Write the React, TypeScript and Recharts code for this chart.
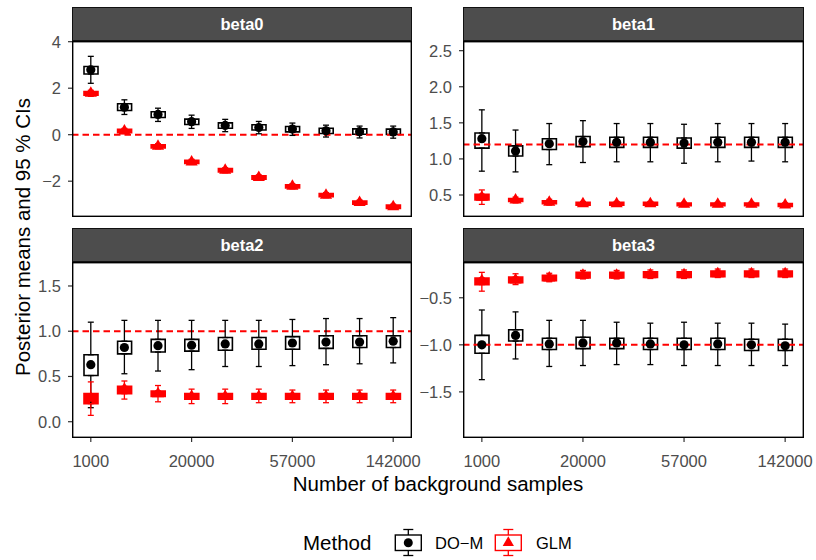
import React from 'react'
import { ComposedChart, Bar, Scatter, ErrorBar, XAxis, YAxis, ReferenceLine } from 'recharts'

// x categories (only every third one is labelled in the figure)
const sampleSizes = ['1000', '5000', '11000', '20000', '30000', '42000', '57000', '78000', '105000', '142000']
const shownTicks = ['1000', '20000', '57000', '142000']

// beta0
const b0DmMean = [2.79, 1.18, 0.87, 0.56, 0.40, 0.31, 0.24, 0.17, 0.13, 0.12]
const b0DmQ1 = [2.61, 1.04, 0.74, 0.44, 0.28, 0.20, 0.12, 0.05, 0.02, 0.01]
const b0DmQ3 = [2.93, 1.33, 0.99, 0.67, 0.51, 0.43, 0.35, 0.28, 0.25, 0.24]
const b0DmLo = [2.21, 0.87, 0.57, 0.27, 0.13, 0.04, -0.03, -0.10, -0.14, -0.15]
const b0DmHi = [3.37, 1.50, 1.14, 0.84, 0.66, 0.57, 0.50, 0.41, 0.37, 0.37]
const b0GlmMean = [1.78, 0.16, -0.50, -1.17, -1.53, -1.84, -2.22, -2.60, -2.92, -3.10]
const b0GlmQ1 = [1.70, 0.09, -0.57, -1.24, -1.60, -1.91, -2.29, -2.67, -2.99, -3.17]
const b0GlmQ3 = [1.86, 0.23, -0.43, -1.10, -1.46, -1.77, -2.15, -2.53, -2.85, -3.03]
const b0GlmLo = [1.65, 0.05, -0.61, -1.28, -1.64, -1.95, -2.33, -2.71, -3.03, -3.21]
const b0GlmHi = [1.91, 0.27, -0.39, -1.06, -1.42, -1.73, -2.11, -2.49, -2.81, -2.99]

// beta1
const b1DmMean = [1.28, 1.11, 1.21, 1.24, 1.23, 1.23, 1.22, 1.23, 1.23, 1.23]
const b1DmQ1 = [1.15, 1.04, 1.13, 1.17, 1.16, 1.16, 1.15, 1.16, 1.16, 1.16]
const b1DmQ3 = [1.36, 1.18, 1.28, 1.31, 1.30, 1.30, 1.29, 1.30, 1.30, 1.30]
const b1DmLo = [0.83, 0.82, 0.92, 0.95, 0.96, 0.96, 0.94, 0.96, 0.97, 0.96]
const b1DmHi = [1.68, 1.40, 1.49, 1.53, 1.49, 1.49, 1.48, 1.49, 1.49, 1.49]
const b1GlmMean = [0.47, 0.43, 0.40, 0.38, 0.38, 0.38, 0.37, 0.37, 0.37, 0.36]
const b1GlmQ1 = [0.43, 0.41, 0.38, 0.36, 0.36, 0.36, 0.35, 0.35, 0.35, 0.34]
const b1GlmQ3 = [0.51, 0.45, 0.42, 0.40, 0.40, 0.40, 0.39, 0.39, 0.39, 0.38]
const b1GlmLo = [0.37, 0.39, 0.36, 0.35, 0.35, 0.35, 0.34, 0.34, 0.34, 0.33]
const b1GlmHi = [0.57, 0.47, 0.44, 0.41, 0.41, 0.41, 0.40, 0.40, 0.40, 0.39]

// beta2
const b2DmMean = [0.63, 0.82, 0.84, 0.845, 0.86, 0.86, 0.87, 0.88, 0.88, 0.89]
const b2DmQ1 = [0.51, 0.75, 0.77, 0.78, 0.79, 0.80, 0.80, 0.81, 0.82, 0.82]
const b2DmQ3 = [0.74, 0.89, 0.91, 0.91, 0.93, 0.93, 0.94, 0.95, 0.95, 0.95]
const b2DmLo = [0.155, 0.53, 0.56, 0.575, 0.61, 0.61, 0.62, 0.63, 0.64, 0.65]
const b2DmHi = [1.10, 1.12, 1.12, 1.12, 1.12, 1.12, 1.13, 1.14, 1.14, 1.15]
const b2GlmMean = [0.26, 0.36, 0.31, 0.28, 0.28, 0.28, 0.28, 0.28, 0.28, 0.28]
const b2GlmQ1 = [0.20, 0.31, 0.28, 0.25, 0.25, 0.25, 0.25, 0.25, 0.25, 0.25]
const b2GlmQ3 = [0.31, 0.39, 0.34, 0.31, 0.31, 0.31, 0.31, 0.31, 0.31, 0.31]
const b2GlmLo = [0.07, 0.25, 0.22, 0.20, 0.20, 0.21, 0.21, 0.21, 0.21, 0.21]
const b2GlmHi = [0.44, 0.45, 0.40, 0.36, 0.36, 0.36, 0.35, 0.35, 0.35, 0.35]

// beta3
const b3DmMean = [-1.00, -0.90, -0.99, -0.98, -0.98, -0.99, -1.00, -0.99, -1.00, -1.01]
const b3DmQ1 = [-1.09, -0.96, -1.05, -1.04, -1.04, -1.05, -1.05, -1.05, -1.06, -1.06]
const b3DmQ3 = [-0.90, -0.84, -0.93, -0.92, -0.93, -0.93, -0.93, -0.93, -0.94, -0.94]
const b3DmLo = [-1.37, -1.15, -1.23, -1.22, -1.21, -1.21, -1.22, -1.22, -1.22, -1.22]
const b3DmHi = [-0.63, -0.65, -0.74, -0.74, -0.76, -0.77, -0.76, -0.77, -0.77, -0.78]
const b3GlmMean = [-0.32, -0.31, -0.29, -0.26, -0.26, -0.255, -0.255, -0.245, -0.245, -0.245]
const b3GlmQ1 = [-0.36, -0.34, -0.32, -0.29, -0.29, -0.285, -0.285, -0.275, -0.275, -0.275]
const b3GlmQ3 = [-0.29, -0.28, -0.26, -0.23, -0.23, -0.225, -0.225, -0.215, -0.215, -0.215]
const b3GlmLo = [-0.43, -0.36, -0.33, -0.30, -0.30, -0.295, -0.295, -0.285, -0.285, -0.285]
const b3GlmHi = [-0.23, -0.245, -0.24, -0.21, -0.21, -0.205, -0.205, -0.195, -0.195, -0.195]

const FONT = '"Liberation Sans", Arial, Helvetica, sans-serif'
const RED = '#ff0000'

type Est = { mean: number[]; q1: number[]; q3: number[]; lo: number[]; hi: number[] }

function buildRows(dm: Est, glm: Est) {
  return sampleSizes.map((n, i) => ({
    n,
    dmMean: dm.mean[i],
    dmBox: [dm.q1[i], dm.q3[i]],
    dmQ1: dm.q1[i],
    dmQ3: dm.q3[i],
    dmLow: [dm.q1[i] - dm.lo[i], 0],
    dmHigh: [0, dm.hi[i] - dm.q3[i]],
    glmMean: glm.mean[i],
    glmBox: [glm.q1[i], glm.q3[i]],
    glmQ1: glm.q1[i],
    glmQ3: glm.q3[i],
    glmLow: [glm.q1[i] - glm.lo[i], 0],
    glmHigh: [0, glm.hi[i] - glm.q3[i]],
  }))
}

const noShape = () => <g />
const dot = (p: any) => <circle cx={p.cx} cy={p.cy} r={4.6} fill="#000" />
const tri = (p: any) => {
  const r = 7
  const hw = r * 0.866
  return <polygon points={`${p.cx},${p.cy - r} ${p.cx + hw},${p.cy + r / 2} ${p.cx - hw},${p.cy + r / 2}`} fill={RED} />
}

const PLOT_H = 176
const PAD_T = 12 // room above the plot for the top tick label
const PAD_R = 30 // room to the right for the last x label

function Panel({ title, rows, domain, ticks, decimals, truth, left, top, width, showX }: any) {
  const axisH = showX ? 40 : 0
  const plotW = width - 72
  const fmt = (v: number) => v.toFixed(decimals).replace('-', '\u2212')
  return (
    <div style={{ position: 'absolute', left, top }}>
      <div
        style={{
          position: 'absolute', left: 72, top: 0, width: plotW, height: 34,
          background: '#4d4d4d', border: '1px solid #111', boxSizing: 'border-box',
          color: '#fff', fontWeight: 'bold', fontSize: 16.5, fontFamily: FONT,
          textAlign: 'center', lineHeight: '32px',
        }}
      >
        {title}
      </div>
      <div style={{ position: 'absolute', left: 0, top: 34 - PAD_T }}>
        <ComposedChart
          width={width + PAD_R}
          height={PLOT_H + axisH + PAD_T}
          data={rows}
          margin={{ top: PAD_T, right: PAD_R, bottom: 0, left: 0 }}
          barSize={14}
          barGap={-14}
        >
          <XAxis
            dataKey="n"
            hide={!showX}
            height={axisH}
            ticks={shownTicks}
            interval={0}
            padding={{ left: 2, right: 2 }}
            axisLine={false}
            tickSize={4}
            tickMargin={13}
            tickLine={{ stroke: '#333', strokeWidth: 1.2 }}
            tick={{ fill: '#4d4d4d', fontSize: 16.5, fontFamily: FONT }}
          />
          <YAxis
            type="number"
            width={72}
            domain={domain}
            ticks={ticks}
            interval={0}
            allowDataOverflow
            axisLine={false}
            tickSize={4}
            tickMargin={7}
            tickLine={{ stroke: '#333', strokeWidth: 1.2 }}
            tick={{ fill: '#4d4d4d', fontSize: 16.5, fontFamily: FONT }}
            tickFormatter={fmt}
          />
          <ReferenceLine y={truth} stroke={RED} strokeWidth={1.9} strokeDasharray="6.5 4" />
          <Scatter dataKey="dmQ1" shape={noShape} isAnimationActive={false}>
            <ErrorBar dataKey="dmLow" direction="y" width={3} stroke="#000" strokeWidth={1.3} isAnimationActive={false} />
          </Scatter>
          <Scatter dataKey="dmQ3" shape={noShape} isAnimationActive={false}>
            <ErrorBar dataKey="dmHigh" direction="y" width={3} stroke="#000" strokeWidth={1.3} isAnimationActive={false} />
          </Scatter>
          <Scatter dataKey="glmQ1" shape={noShape} isAnimationActive={false}>
            <ErrorBar dataKey="glmLow" direction="y" width={3} stroke={RED} strokeWidth={1.3} isAnimationActive={false} />
          </Scatter>
          <Scatter dataKey="glmQ3" shape={noShape} isAnimationActive={false}>
            <ErrorBar dataKey="glmHigh" direction="y" width={3} stroke={RED} strokeWidth={1.3} isAnimationActive={false} />
          </Scatter>
          <Bar dataKey="dmBox" fill="#fff" stroke="#000" strokeWidth={1.6} isAnimationActive={false} />
          <Bar dataKey="glmBox" fill={RED} stroke={RED} strokeWidth={1.6} isAnimationActive={false} />
          <Scatter dataKey="dmMean" shape={dot} isAnimationActive={false} />
          <Scatter dataKey="glmMean" shape={tri} isAnimationActive={false} />
        </ComposedChart>
        <svg
          width={plotW}
          height={PLOT_H}
          style={{ position: 'absolute', left: 72, top: PAD_T, pointerEvents: 'none' }}
        >
          <rect x={0.7} y={0.7} width={plotW - 1.4} height={PLOT_H - 1.4} fill="none" stroke="#000" strokeWidth={1.4} />
        </svg>
      </div>
    </div>
  )
}

function LegendKey({ cx, color, point }: { cx: number; color: string; point: 'dot' | 'tri' }) {
  const cy = 542.7
  const r = 6.5
  const hw = r * 0.866
  return (
    <g stroke={color} strokeWidth={1.3}>
      <line x1={cx} x2={cx} y1={529.5} y2={535} />
      <line x1={cx} x2={cx} y1={550.5} y2={555.5} />
      <line x1={cx - 5} x2={cx + 5} y1={529.5} y2={529.5} />
      <line x1={cx - 5} x2={cx + 5} y1={555.5} y2={555.5} />
      <rect x={cx - 13} y={535} width={26} height={15.5} fill="#fff" strokeWidth={1.4} />
      {point === 'dot' ? (
        <circle cx={cx} cy={cy} r={4.5} fill={color} stroke="none" />
      ) : (
        <polygon points={`${cx},${cy - r} ${cx + hw},${cy + r / 2} ${cx - hw},${cy + r / 2}`} fill={color} stroke="none" />
      )}
    </g>
  )
}

export default function App() {
  const rows0 = buildRows(
    { mean: b0DmMean, q1: b0DmQ1, q3: b0DmQ3, lo: b0DmLo, hi: b0DmHi },
    { mean: b0GlmMean, q1: b0GlmQ1, q3: b0GlmQ3, lo: b0GlmLo, hi: b0GlmHi },
  )
  const rows1 = buildRows(
    { mean: b1DmMean, q1: b1DmQ1, q3: b1DmQ3, lo: b1DmLo, hi: b1DmHi },
    { mean: b1GlmMean, q1: b1GlmQ1, q3: b1GlmQ3, lo: b1GlmLo, hi: b1GlmHi },
  )
  const rows2 = buildRows(
    { mean: b2DmMean, q1: b2DmQ1, q3: b2DmQ3, lo: b2DmLo, hi: b2DmHi },
    { mean: b2GlmMean, q1: b2GlmQ1, q3: b2GlmQ3, lo: b2GlmLo, hi: b2GlmHi },
  )
  const rows3 = buildRows(
    { mean: b3DmMean, q1: b3DmQ1, q3: b3DmQ3, lo: b3DmLo, hi: b3DmHi },
    { mean: b3GlmMean, q1: b3GlmQ1, q3: b3GlmQ3, lo: b3GlmLo, hi: b3GlmHi },
  )

  return (
    <div style={{ position: 'absolute', left: 0, top: 0, width: 816, height: 560, background: '#fff', fontFamily: FONT }}>
      <svg width={816} height={560} style={{ position: 'absolute', left: 0, top: 0 }}>
        <text
          transform="translate(29.5,237) rotate(-90)"
          textAnchor="middle"
          fontSize={20.5}
          fontFamily={FONT}
          fill="#000"
        >
          Posterior means and 95 % CIs
        </text>
        <text x={438} y={491} textAnchor="middle" fontSize={20.5} fontFamily={FONT} fill="#000">
          Number of background samples
        </text>
        <text x={303} y={550} fontSize={20.5} fontFamily={FONT} fill="#000">Method</text>
        <LegendKey cx={408.3} color="#000" point="dot" />
        <text x={435} y={549} fontSize={16.5} fontFamily={FONT} fill="#000">DO−M</text>
        <LegendKey cx={508.3} color={RED} point="tri" />
        <text x={536} y={549} fontSize={16.5} fontFamily={FONT} fill="#000">GLM</text>
      </svg>

      <Panel title="beta0" rows={rows0} domain={[-3.54, 4.03]} ticks={[-2, 0, 2, 4]} decimals={0} truth={0}
        left={0} top={7} width={412} showX={false} />
      <Panel title="beta1" rows={rows1} domain={[0.195, 2.634]} ticks={[0.5, 1.0, 1.5, 2.0, 2.5]} decimals={1} truth={1.2}
        left={391} top={7} width={413} showX={false} />
      <Panel title="beta2" rows={rows2} domain={[-0.18, 1.765]} ticks={[0.0, 0.5, 1.0, 1.5]} decimals={1} truth={1.0}
        left={0} top={228} width={412} showX />
      <Panel title="beta3" rows={rows3} domain={[-1.99, -0.12]} ticks={[-1.5, -1.0, -0.5]} decimals={1} truth={-1.0}
        left={391} top={228} width={413} showX />
    </div>
  )
}
